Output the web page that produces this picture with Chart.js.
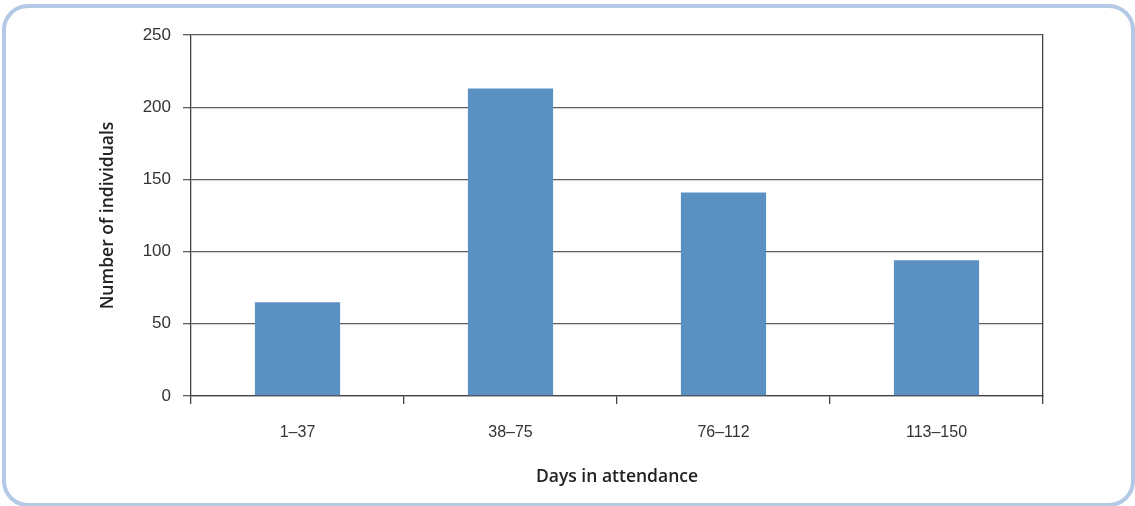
<!DOCTYPE html>
<html>
<head>
<meta charset="utf-8">
<script src="https://cdn.jsdelivr.net/npm/chart.js@4/dist/chart.umd.min.js"></script>
<style>
  html, body { margin: 0; padding: 0; background: #ffffff; }
  #wrap { position: relative; width: 1135px; height: 506px; overflow: hidden; }
  #frame { position: absolute; left: 2px; top: 4px; width: 1133px; height: 503px; box-sizing: border-box;
           border: 4px solid #b3c9e5; border-radius: 26px; }
  canvas { position: absolute; left: 0; top: 0; }
</style>
</head>
<body>
<div id="wrap">
  <div id="frame"></div>
  <canvas id="c" width="1135" height="506"></canvas>
</div>
<script>
const categories = ['1–37', '38–75', '76–112', '113–150'];
const individuals = [65, 213, 141, 94];
const yTicks = [0, 50, 100, 150, 200, 250];

const gridColor = '#5e5e5e';
const axisColor = '#444444';

new Chart(document.getElementById('c'), {
  type: 'bar',
  data: {
    labels: categories,
    datasets: [{
      data: individuals,
      backgroundColor: '#5b90c3',
      borderWidth: 0,
      barPercentage: 0.4,
      categoryPercentage: 1.0
    }]
  },
  options: {
    responsive: false,
    animation: false,
    devicePixelRatio: 1,
    layout: { padding: { left: 90, top: 35, right: 92, bottom: 0 } },
    plugins: { legend: { display: false }, tooltip: { enabled: false } },
    scales: {
      x: {
        offset: true,
        grid: { display: true, drawOnChartArea: false, drawTicks: true, tickLength: 8, color: axisColor, lineWidth: 1.3 },
        border: { display: true, color: axisColor, width: 1.3 },
        ticks: { color: '#333333', font: { family: 'Liberation Sans', size: 16 }, padding: 19 },
        title: { display: true, text: 'Days in attendance', color: '#222222',
                 font: { family: 'Open Sans', size: 17.5, weight: '600', lineHeight: 1.2 },
                 padding: { top: 0, bottom: 18.5 } },
        afterFit: (s) => { s.height = 110; }
      },
      y: {
        min: 0, max: 250,
        afterBuildTicks: (s) => { s.ticks = yTicks.map(v => ({ value: v })); },
        grid: { color: gridColor, lineWidth: 1.3, drawTicks: true, tickLength: 8 },
        border: { display: true, color: axisColor, width: 1.3 },
        ticks: { color: '#333333', font: { family: 'Liberation Sans', size: 17 }, padding: 12 },
        title: { display: true, text: 'Number of individuals', color: '#222222',
                 font: { family: 'Open Sans', size: 17.5, weight: '600', lineHeight: 1.2 },
                 padding: { top: 7.5, bottom: 0 } },
        afterFit: (s) => { s.width = 101; }
      },
      y2: {
        position: 'right',
        min: 0, max: 250,
        ticks: { display: false },
        grid: { display: false, drawTicks: false },
        border: { display: true, color: axisColor, width: 1.3 },
        afterFit: (s) => { s.width = 0; }
      }
    }
  }
});
</script>
</body>
</html>
